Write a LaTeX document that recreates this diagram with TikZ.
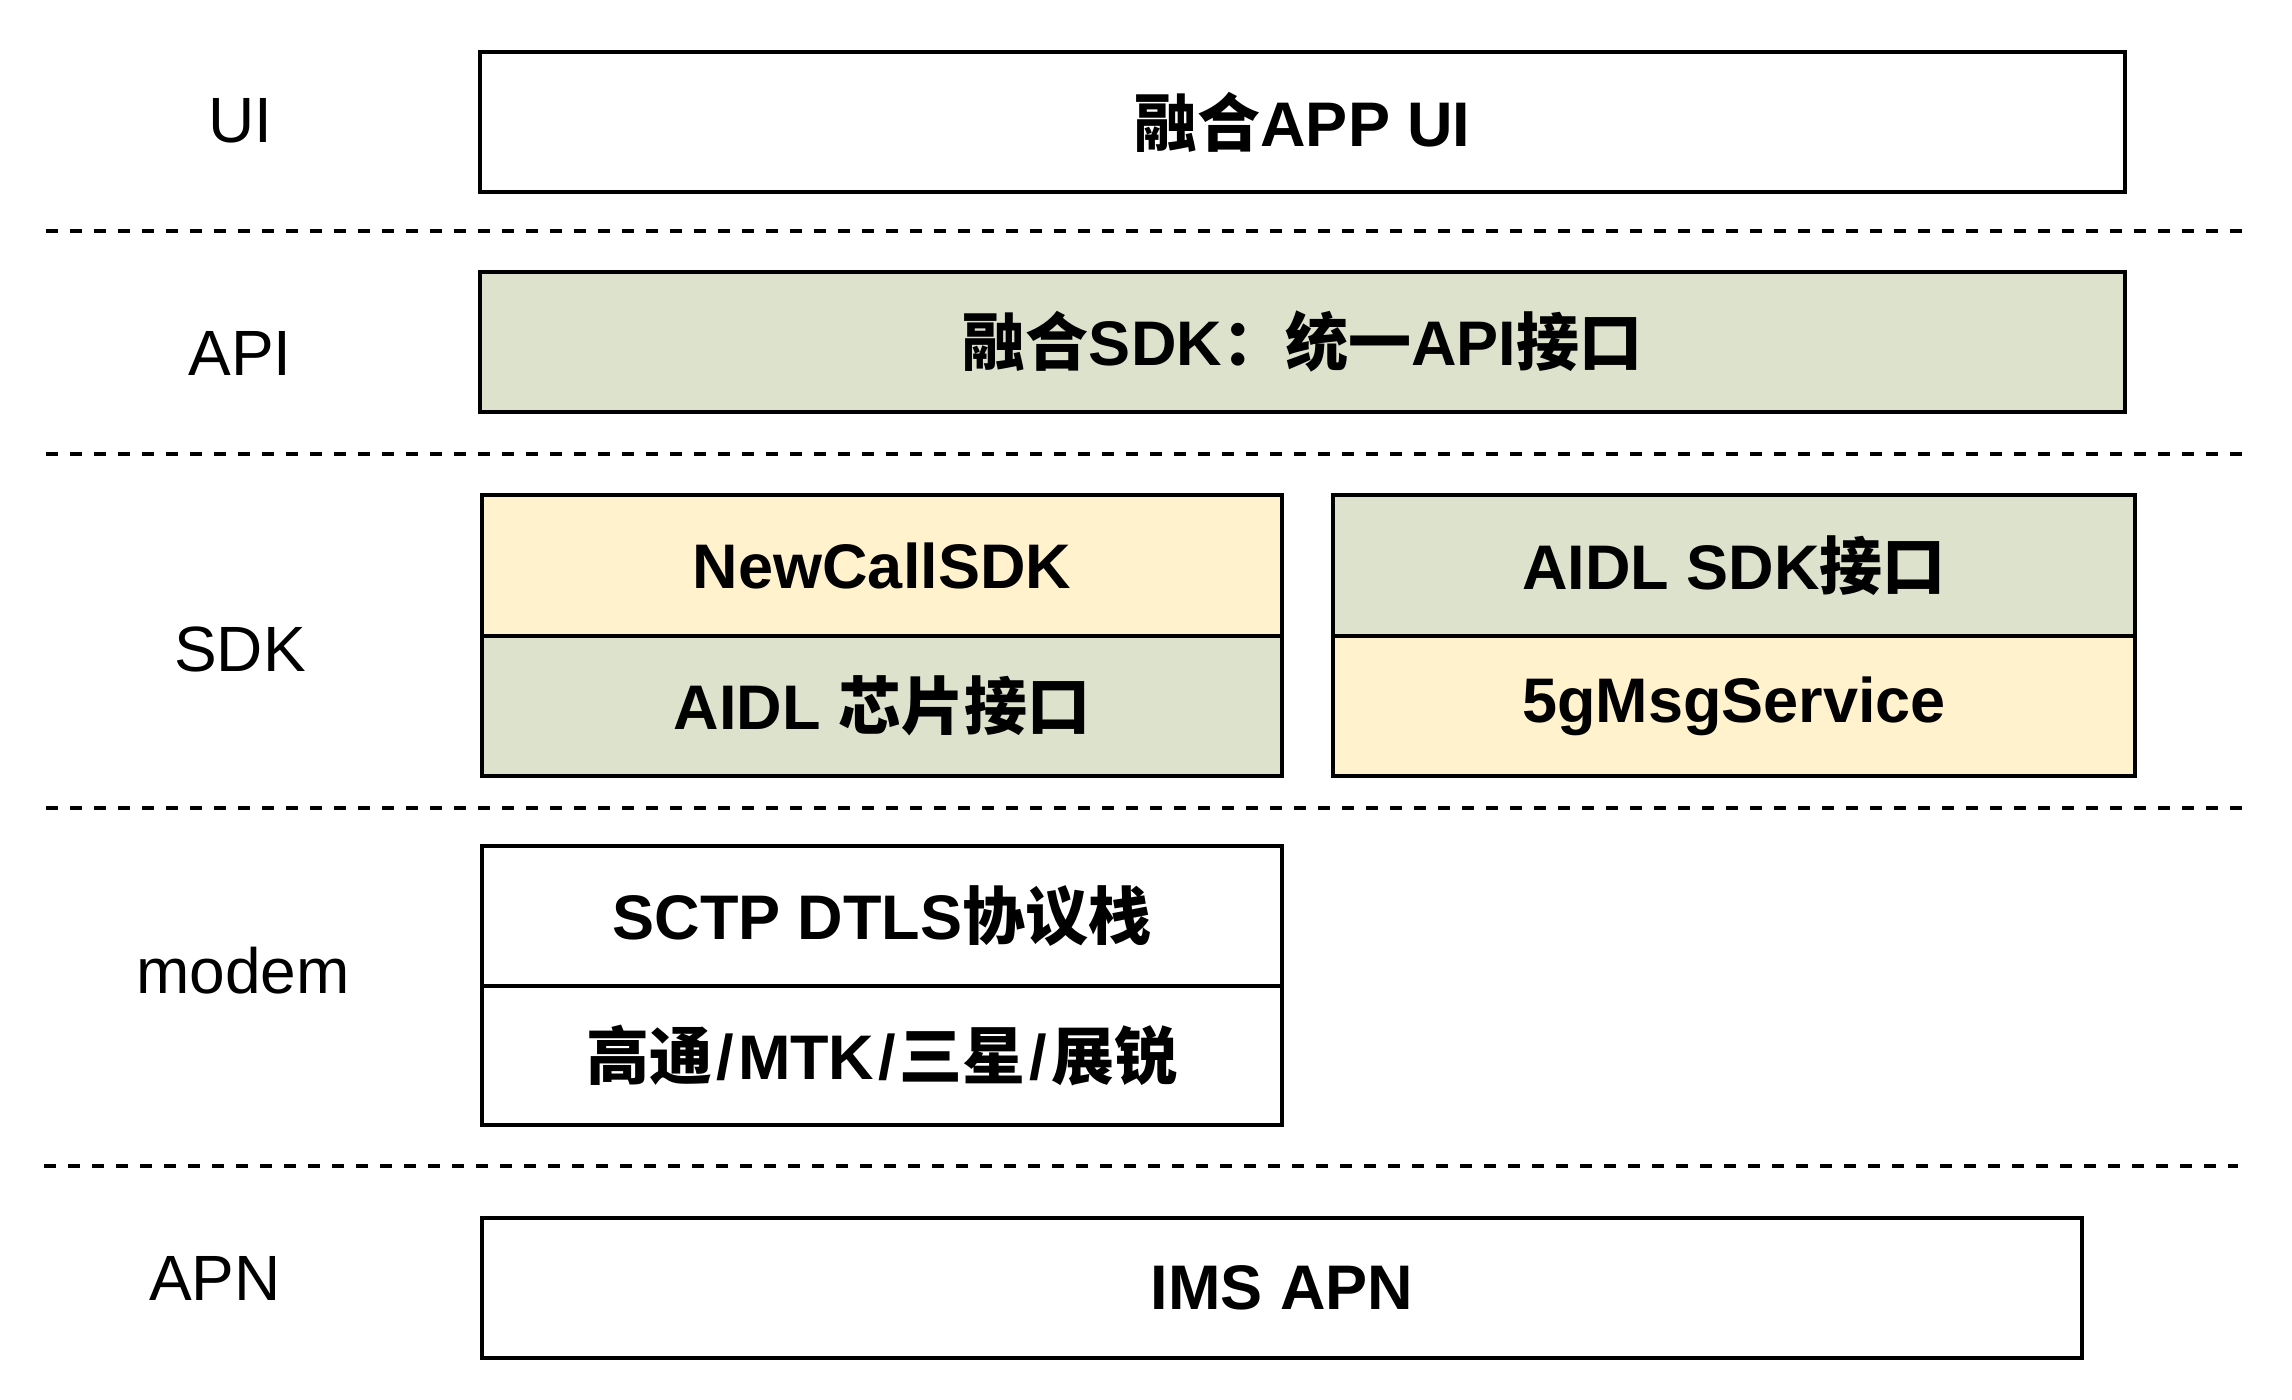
\documentclass[tikz,border=0pt]{standalone}
\usepackage{fontspec}
\setmainfont{Liberation Sans}
\newfontfamily\cjkb{Noto Sans CJK SC Bold}
\newcommand{\zh}[1]{{\cjkb #1}}
\newcommand{\vslash}{\kern2pt/\kern2pt}
\definecolor{boxgreen}{RGB}{221,226,205}
\definecolor{boxyellow}{RGB}{255,242,204}
\tikzset{
  layerbox/.style={draw=black, line width=1.75pt, rectangle, inner sep=0pt,
    font=\fontsize{31.5}{36}\selectfont\bfseries, text=black},
  layerlabel/.style={font=\fontsize{32}{36}\selectfont, text=black, inner sep=0pt},
  sepline/.style={line width=1.8pt, dash pattern=on 6pt off 6pt}
}
\begin{document}
\begin{tikzpicture}[x=0.5pt,y=-0.5pt]
\useasboundingbox (0,0) rectangle (2292,1400);
\fill[white] (0,0) rectangle (2292,1400);
% boxes
\node[layerbox, fill=white, minimum width=822.5pt, minimum height=70pt] (ui) at (1302.5,122) {\zh{融合}APP UI};
\node[layerbox, fill=boxgreen, minimum width=822.5pt, minimum height=70pt] (api) at (1302.5,342) {\zh{融合}SDK\zh{：统一}API\zh{接口}};
\node[layerbox, fill=boxyellow, minimum width=400pt, minimum height=70.5pt] (ncs) at (882,565.5) {NewCallSDK};
\node[layerbox, fill=boxgreen, minimum width=400pt, minimum height=70pt] (chipif) at (882,706) {AIDL \zh{芯片接口}};
\node[layerbox, fill=boxgreen, minimum width=401pt, minimum height=70.5pt] (sdkif) at (1734,565.5) {AIDL SDK\zh{接口}};
\node[layerbox, fill=boxyellow, minimum width=401pt, minimum height=70pt] (msg) at (1734,706) {5gMsgService};
\node[layerbox, fill=white, minimum width=400pt, minimum height=70pt] (sctp) at (882,916) {SCTP DTLS\zh{协议栈}};
\node[layerbox, fill=white, minimum width=400pt, minimum height=69.5pt] (vendor) at (882,1055.5) {\zh{高通}\vslash MTK\vslash\zh{三星}\vslash\zh{展锐}};
\node[layerbox, fill=white, minimum width=800pt, minimum height=70pt] (ims) at (1282,1288) {IMS APN};
% labels
\node[layerlabel] (lui) at (240,121) {UI};
\node[layerlabel] (lapi) at (240,353) {API};
\node[layerlabel] (lsdk) at (240,649) {SDK};
\node[layerlabel] (lmodem) at (243,971) {modem};
\node[layerlabel] (lapn) at (215,1278) {APN};
% separators
\coordinate (s1a) at (46,231); \coordinate (s1b) at (2246,231);
\coordinate (s2a) at (46,454); \coordinate (s2b) at (2246,454);
\coordinate (s3a) at (46,808); \coordinate (s3b) at (2242,808);
\coordinate (s4a) at (44,1166); \coordinate (s4b) at (2238,1166);
\draw[sepline] (s1a) -- (s1b);
\draw[sepline] (s2a) -- (s2b);
\draw[sepline] (s3a) -- (s3b);
\draw[sepline] (s4a) -- (s4b);
\end{tikzpicture}
\end{document}
